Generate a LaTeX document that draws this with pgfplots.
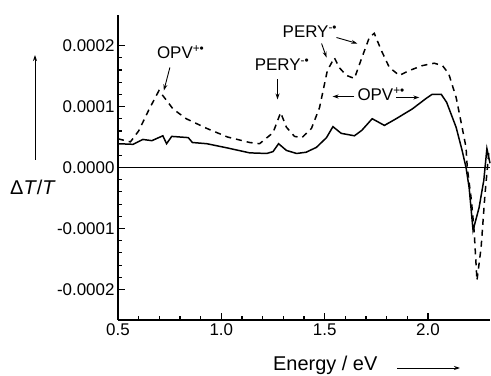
\documentclass[border=0pt]{standalone}
\usepackage{fontspec}
\setmainfont{Liberation Sans}
\usepackage{pgfplots}
\pgfplotsset{compat=1.18}
\usetikzlibrary{arrows.meta}
\begin{document}
\begin{tikzpicture}[font={\fontsize{17}{20}\selectfont}, >={Stealth[length=6bp,width=4bp]}]
\useasboundingbox (-118bp,-56bp) rectangle (373bp,320bp);
\begin{axis}[
  scale only axis, width=372bp, height=305bp,
  xmin=0.5, xmax=2.3, ymin=-0.00025, ymax=0.00025,
  axis x line*=bottom, axis y line*=left,
  axis line style={line width=1.4pt},
  tick align=inside,
  major tick length=7bp, minor tick length=4bp,
  every tick/.style={line width=1.2pt, black},
  xtick={0.5,1.0,1.5,2.0}, minor x tick num=4,
  ytick={-0.0002,-0.0001,0,0.0001,0.0002}, minor y tick num=4,
  scaled y ticks=false, scaled x ticks=false,
  xticklabel style={/pgf/number format/.cd, fixed, fixed zerofill, precision=1, assume math mode=true},
  yticklabel style={/pgf/number format/.cd, fixed, fixed zerofill, precision=4, assume math mode=true},
  clip=false,
]
\addplot[black, line width=1.5pt] coordinates {
(0.5,0.39e-4) (0.573,0.38e-4) (0.62,0.46e-4) (0.664,0.44e-4) (0.717,0.52e-4) (0.735,0.39e-4)
(0.76,0.51e-4) (0.84,0.49e-4) (0.86,0.41e-4) (0.93,0.39e-4) (1.03,0.32e-4) (1.137,0.24e-4)
(1.22,0.23e-4) (1.25,0.26e-4) (1.277,0.39e-4) (1.315,0.28e-4) (1.364,0.23e-4) (1.41,0.25e-4)
(1.46,0.33e-4) (1.509,0.49e-4) (1.54,0.67e-4) (1.58,0.56e-4) (1.644,0.52e-4) (1.68,0.61e-4)
(1.73,0.80e-4) (1.789,0.69e-4) (1.846,0.80e-4) (1.924,0.96e-4) (1.99,1.13e-4) (2.02,1.20e-4)
(2.064,1.20e-4) (2.09,1.07e-4) (2.136,0.66e-4) (2.165,0.28e-4) (2.184,0) (2.199,-0.33e-4)
(2.218,-1.03e-4) (2.247,-0.66e-4) (2.27,-0.21e-4) (2.285,0.31e-4) (2.30,0.07e-4)
};
\addplot[black, line width=1.5pt, dash pattern=on 6bp off 5bp] coordinates {
(0.5,0.47e-4) (0.56,0.42e-4) (0.6,0.6e-4) (0.65,0.95e-4) (0.698,1.26e-4) (0.735,1.10e-4)
(0.766,0.96e-4) (0.83,0.80e-4) (0.93,0.64e-4) (1.03,0.50e-4) (1.137,0.41e-4) (1.185,0.39e-4)
(1.25,0.57e-4) (1.287,0.90e-4) (1.315,0.66e-4) (1.354,0.51e-4) (1.39,0.49e-4) (1.436,0.64e-4)
(1.475,0.98e-4) (1.513,1.59e-4) (1.547,1.80e-4) (1.57,1.64e-4) (1.605,1.51e-4) (1.644,1.46e-4)
(1.68,1.80e-4) (1.716,2.13e-4) (1.74,2.20e-4) (1.774,1.92e-4) (1.813,1.64e-4) (1.861,1.51e-4)
(1.91,1.59e-4) (1.972,1.67e-4) (2.03,1.71e-4) (2.07,1.67e-4) (2.10,1.54e-4) (2.136,1.15e-4)
(2.165,0.66e-4) (2.184,0.33e-4) (2.19,0) (2.21,-0.54e-4) (2.223,-1.03e-4) (2.237,-1.85e-4)
(2.257,-1.31e-4) (2.276,-0.43e-4) (2.295,0.28e-4)
};
\draw[line width=1.4pt] (axis cs:0.5,0) -- (axis cs:2.3,0);
% annotations
\node[anchor=base west, inner sep=0] at (axis cs:0.688,1.787e-4) {OPV\textsuperscript{+•}};
\draw[->, line width=0.9pt] (axis cs:0.751,1.639e-4) -- (axis cs:0.722,1.262e-4);
\node[anchor=base west, inner sep=0] at (axis cs:1.161,1.590e-4) {PERY\textsuperscript{-•}};
\draw[->, line width=0.9pt] (axis cs:1.272,1.443e-4) -- (axis cs:1.272,1.115e-4);
\node[anchor=base west, inner sep=0] at (axis cs:1.296,2.131e-4) {PERY\textsuperscript{-•}};
\draw[->, line width=0.9pt] (axis cs:1.485,2.033e-4) -- (axis cs:1.509,1.803e-4);
\draw[->, line width=0.9pt] (axis cs:1.557,2.131e-4) -- (axis cs:1.658,2.033e-4);
\node[anchor=base west, inner sep=0] at (axis cs:1.658,1.098e-4) {OPV\textsuperscript{+•}};
\draw[->, line width=0.9pt] (axis cs:1.644,1.164e-4) -- (axis cs:1.538,1.164e-4);
\draw[->, line width=0.9pt] (axis cs:1.846,1.148e-4) -- (axis cs:1.958,1.148e-4);
\end{axis}
\node[anchor=base west, inner sep=0, font={\fontsize{20}{24}\selectfont}] at (-108bp,125bp) {Δ\textit{T}/\textit{T}};
\draw[->, line width=0.9pt] (-83bp,160bp) -- (-83bp,265bp);
\node[anchor=base west, inner sep=0, font={\fontsize{20}{24}\selectfont}] at (155bp,-50bp) {Energy / eV};
\draw[->, line width=0.9pt] (279bp,-48bp) -- (342bp,-48bp);
\end{tikzpicture}
\end{document}
